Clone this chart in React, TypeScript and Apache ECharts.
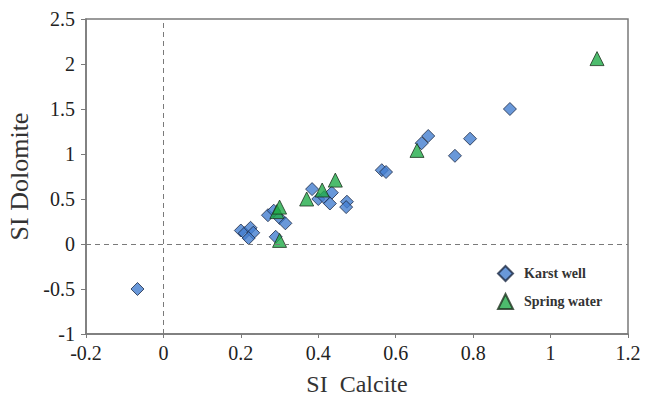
import React, { useEffect, useRef } from "react";
import * as echarts from "echarts";

const xTicks = [-0.2, 0, 0.2, 0.4, 0.6, 0.8, 1, 1.2];
const yTicks = [-1, -0.5, 0, 0.5, 1, 1.5, 2, 2.5];

const karstWell: [number, number][] = [
  [-0.067, -0.5],
  [0.2, 0.15],
  [0.21, 0.12],
  [0.225, 0.18],
  [0.232, 0.125],
  [0.22, 0.065],
  [0.27, 0.32],
  [0.285, 0.37],
  [0.3, 0.29],
  [0.315, 0.23],
  [0.29, 0.08],
  [0.384, 0.61],
  [0.4, 0.5],
  [0.415, 0.52],
  [0.435, 0.57],
  [0.43, 0.45],
  [0.474, 0.47],
  [0.472, 0.41],
  [0.564, 0.82],
  [0.575, 0.8],
  [0.667, 1.12],
  [0.684, 1.2],
  [0.753, 0.98],
  [0.792, 1.17],
  [0.895, 1.5],
];

const springWater: [number, number][] = [
  [0.293, 0.36],
  [0.3, 0.41],
  [0.3, 0.04],
  [0.37, 0.5],
  [0.41, 0.6],
  [0.444, 0.71],
  [0.655, 1.04],
  [1.12, 2.06],
];

const FONT = "Liberation Serif";
const fmt = (v: number) => String(Math.round(v * 10) / 10);

export default function App() {
  const ref = useRef<HTMLDivElement>(null);
  useEffect(() => {
    const chart = echarts.init(ref.current!, undefined, { renderer: "svg" });
    chart.setOption({
      animation: false,
      backgroundColor: "#fff",
      textStyle: { fontFamily: FONT, color: "#222" },
      grid: {
        left: 86,
        top: 19,
        right: 18,
        bottom: 68,
        containLabel: false,
        outerBoundsMode: "none",
        show: true,
        borderColor: "#7a7a7a",
        borderWidth: 1.5,
      },
      legend: {
        orient: "vertical",
        left: 492,
        top: 260,
        itemGap: 11,
        itemWidth: 15,
        itemHeight: 15,
        textStyle: {
          fontFamily: FONT,
          fontSize: 14,
          fontWeight: "bold",
          color: "#333",
          padding: [0, 0, 0, 6],
        },
        data: [
          { name: "Karst well", icon: "diamond" },
          { name: "Spring water", icon: "triangle" },
        ],
      },
      xAxis: {
        type: "value",
        min: xTicks[0],
        max: xTicks[xTicks.length - 1],
        interval: 0.2,
        name: "SI  Calcite",
        nameLocation: "middle",
        nameGap: 38,
        nameTextStyle: { fontFamily: FONT, fontSize: 24, color: "#333" },
        axisLine: { show: true, onZero: false, lineStyle: { color: "#7a7a7a", width: 1.5 } },
        axisTick: { show: true, length: 4, lineStyle: { color: "#7a7a7a" } },
        axisLabel: {
          show: true,
          fontFamily: FONT,
          fontSize: 20,
          color: "#222",
          margin: 9,
          formatter: fmt,
        },
        splitLine: { show: false },
      },
      yAxis: {
        type: "value",
        min: yTicks[0],
        max: yTicks[yTicks.length - 1],
        interval: 0.5,
        name: "SI Dolomite",
        nameLocation: "middle",
        nameGap: 33,
        nameTextStyle: { fontFamily: FONT, fontSize: 26, color: "#333" },
        axisLine: { show: true, onZero: false, lineStyle: { color: "#7a7a7a", width: 1.5 } },
        axisTick: { show: true, length: 5, lineStyle: { color: "#7a7a7a" } },
        axisLabel: {
          show: true,
          fontFamily: FONT,
          fontSize: 20,
          color: "#222",
          margin: 11,
          formatter: fmt,
        },
        splitLine: { show: false },
      },
      series: [
        {
          name: "Karst well",
          type: "scatter",
          symbol: "diamond",
          symbolSize: 13,
          itemStyle: { color: "#447ecf", borderColor: "#1e2b45", borderWidth: 1 },
          data: karstWell,
          z: 3,
          markLine: {
            silent: true,
            symbol: "none",
            label: { show: false },
            lineStyle: { color: "#7a7a7a", type: [5, 4], width: 1 },
            data: [{ xAxis: 0 }, { yAxis: 0 }],
          },
        },
        {
          name: "Spring water",
          type: "scatter",
          symbol: "triangle",
          symbolSize: 14,
          itemStyle: { color: "#20ab48", borderColor: "#1f3321", borderWidth: 1 },
          data: springWater,
          z: 4,
        },
      ],
    });
    return () => chart.dispose();
  }, []);
  return <div ref={ref} style={{ width: 646, height: 402, position: "absolute", left: 0, top: 0 }} />;
}
